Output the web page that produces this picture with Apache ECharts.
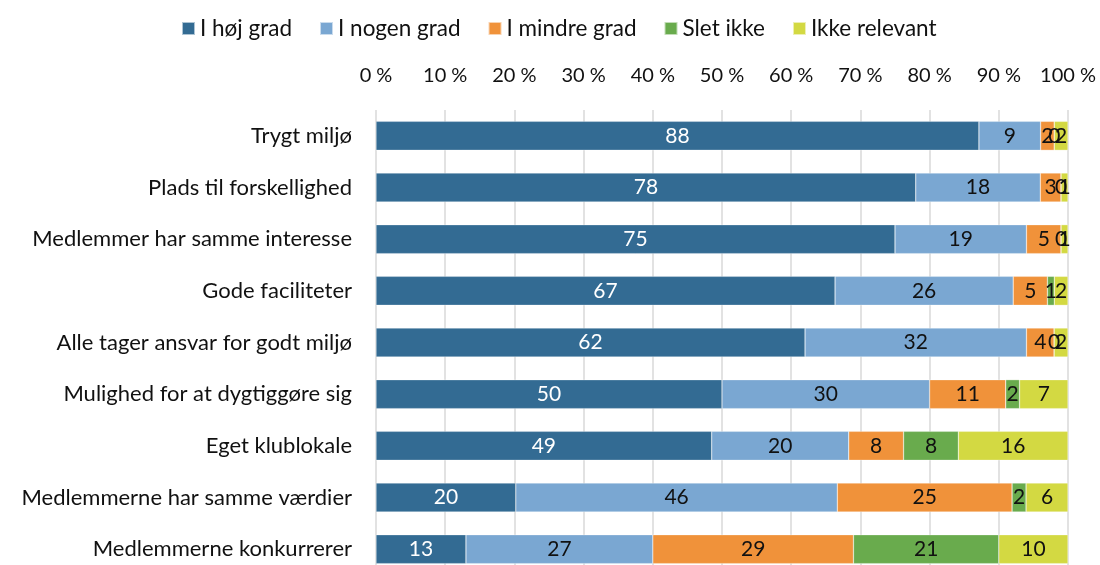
<!DOCTYPE html>
<html>
<head>
<meta charset="utf-8">
<script src="https://cdn.jsdelivr.net/npm/echarts@6/dist/echarts.min.js"></script>
<style>
  html, body { margin: 0; padding: 0; background: #fff; }
  #chart { width: 1100px; height: 565px; }
</style>
</head>
<body>
<div id="chart"></div>
<script>
// Categories (top to bottom)
const categories = [
  'Trygt miljø',
  'Plads til forskellighed',
  'Medlemmer har samme interesse',
  'Gode faciliteter',
  'Alle tager ansvar for godt miljø',
  'Mulighed for at dygtiggøre sig',
  'Eget klublokale',
  'Medlemmerne har samme værdier',
  'Medlemmerne konkurrerer'
];

// Answer shares in percent, one array per answer option
const hoejGrad      = [88, 78, 75, 67, 62, 50, 49, 20, 13];
const nogenGrad     = [ 9, 18, 19, 26, 32, 30, 20, 46, 27];
const mindreGrad    = [ 2,  3,  5,  5,  4, 11,  8, 25, 29];
const sletIkke      = [ 0,  0,  0,  1,  0,  2,  8,  2, 21];
const ikkeRelevant  = [ 2,  1,  1,  2,  2,  7, 16,  6, 10];

const seriesNames = ['I høj grad', 'I nogen grad', 'I mindre grad', 'Slet ikke', 'Ikke relevant'];
const seriesColors = ['#336b93', '#7aa7d2', '#f0923a', '#69ab4d', '#d3d942'];
const tickLabels = ['0 %', '10 %', '20 %', '30 %', '40 %', '50 %', '60 %', '70 %', '80 %', '90 %', '100 %'];

const raw = [hoejGrad, nogenGrad, mindreGrad, sletIkke, ikkeRelevant];
// Each row is scaled to a full 100 % bar
const rowSums = categories.map((_, i) => raw.reduce((s, arr) => s + arr[i], 0));

const FONT = 'Lato, "Open Sans", sans-serif';

const series = raw.map((arr, k) => ({
  name: seriesNames[k],
  type: 'bar',
  stack: 'total',
  barWidth: 29,
  itemStyle: { color: seriesColors[k], borderColor: 'rgba(255,255,255,0.6)', borderWidth: 0.5 },
  label: {
    show: true,
    position: 'inside',
    color: k === 0 ? '#ffffff' : '#111111',
    fontFamily: FONT,
    fontSize: 21,
    formatter: p => String(arr[p.dataIndex])
  },
  data: arr.map((v, i) => v / rowSums[i] * 100)
}));

const chart = echarts.init(document.getElementById('chart'), null, { renderer: 'canvas' });
chart.setOption({
  animation: false,
  textStyle: { fontFamily: FONT },
  legend: {
    top: 12,
    left: 176,
    itemWidth: 13,
    itemHeight: 13,
    itemGap: 27,
    icon: 'rect',
    textStyle: { fontFamily: FONT, fontSize: 22.5, color: '#111' },
    data: seriesNames
  },
  grid: { left: 376, right: 32, top: 110, height: 465, containLabel: false, outerBoundsMode: 'none' },
  xAxis: {
    type: 'value',
    position: 'top',
    min: 0,
    max: 100,
    interval: 10,
    axisLine: { show: false },
    axisTick: { show: false },
    axisLabel: {
      margin: 24,
      fontFamily: FONT,
      fontSize: 20,
      color: '#111',
      formatter: v => tickLabels[Math.round(v / 10)]
    },
    splitLine: { show: true, lineStyle: { color: '#d9d9d9', width: 1.5 } }
  },
  yAxis: {
    type: 'category',
    inverse: true,
    data: categories,
    axisLine: { show: false },
    axisTick: { show: false },
    axisLabel: { margin: 24, fontFamily: FONT, fontSize: 22, color: '#111' }
  },
  series: series
});
</script>
</body>
</html>
